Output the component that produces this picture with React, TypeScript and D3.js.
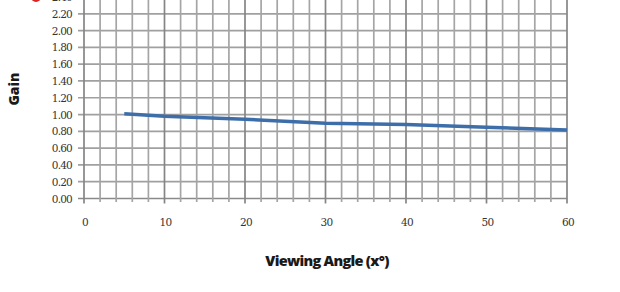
import React from "react";
import * as d3 from "d3";

const angles = [5, 10, 20, 30, 40, 50, 60];
const gains = [1.01, 0.98, 0.945, 0.895, 0.88, 0.85, 0.815];
const xTicks = [0, 10, 20, 30, 40, 50, 60];
const yTicks = [0, 0.2, 0.4, 0.6, 0.8, 1.0, 1.2, 1.4, 1.6, 1.8, 2.0, 2.2, 2.4];
const xMinor = d3.range(0, 61, 2);

export default function App() {
  const W = 620, H = 292;
  const x = d3.scaleLinear().domain([0, 60]).range([84, 567]);
  const y = d3.scaleLinear().domain([0, 2.4]).range([198.5, -3]);
  const line = d3
    .line<number>()
    .x((_, i) => x(angles[i]))
    .y((d) => y(d))
    .curve(d3.curveLinear);
  const serif = "'DejaVu Serif', 'Liberation Serif', serif";
  return (
    <svg
      width={W}
      height={H}
      style={{ position: "absolute", left: 0, top: 0, background: "#fff" }}
    >
      <rect width={W} height={H} fill="#fff" />
      {yTicks.map((t) => (
        <line
          key={"h" + t}
          x1={78}
          x2={x(60)}
          y1={y(t)}
          y2={y(t)}
          stroke={t === 0 ? "#8a8a8a" : "#a0a0a0"}
          strokeWidth={1.7}
        />
      ))}
      {xMinor.map((t) => (
        <line
          key={"v" + t}
          x1={x(t)}
          x2={x(t)}
          y1={-5}
          y2={t % 10 === 0 ? 203.5 : 202}
          stroke={t % 10 === 0 ? "#858585" : "#a5a5a5"}
          strokeWidth={1.7}
        />
      ))}
      {yTicks.map((t) => (
        <text
          key={"yl" + t}
          x={72}
          y={y(t) + 4}
          textAnchor="end"
          fontFamily={serif}
          fontSize={10.5}
          letterSpacing={-0.8}
          fill="#333"
        >
          {t.toFixed(2)}
        </text>
      ))}
      {xTicks.map((t) => (
        <text
          key={"xl" + t}
          x={x(t) + 1}
          y={226}
          textAnchor="middle"
          fontFamily={serif}
          fontSize={10.5}
          letterSpacing={-0.8}
          fill="#333"
        >
          {t}
        </text>
      ))}
      <path
        d={line(gains) || ""}
        fill="none"
        stroke="#3d6ea9"
        strokeWidth={3.5}
        strokeLinejoin="round"
      />
      <text
        transform="translate(19,89) rotate(-90)"
        textAnchor="middle"
        fontFamily="'Open Sans', 'DejaVu Sans', sans-serif"
        fontWeight={800}
        fontSize={14}
        fill="#1a1a1a"
      >
        Gain
      </text>
      <text
        x={327}
        y={266}
        textAnchor="middle"
        fontFamily="'Open Sans', 'DejaVu Sans', sans-serif"
        fontWeight={800}
        fontSize={14.5}
        letterSpacing={-0.7}
        fill="#1a1a1a"
      >
        Viewing Angle (x°)
      </text>
      <circle cx={36} cy={-3} r={5} fill="#d22" />
    </svg>
  );
}
